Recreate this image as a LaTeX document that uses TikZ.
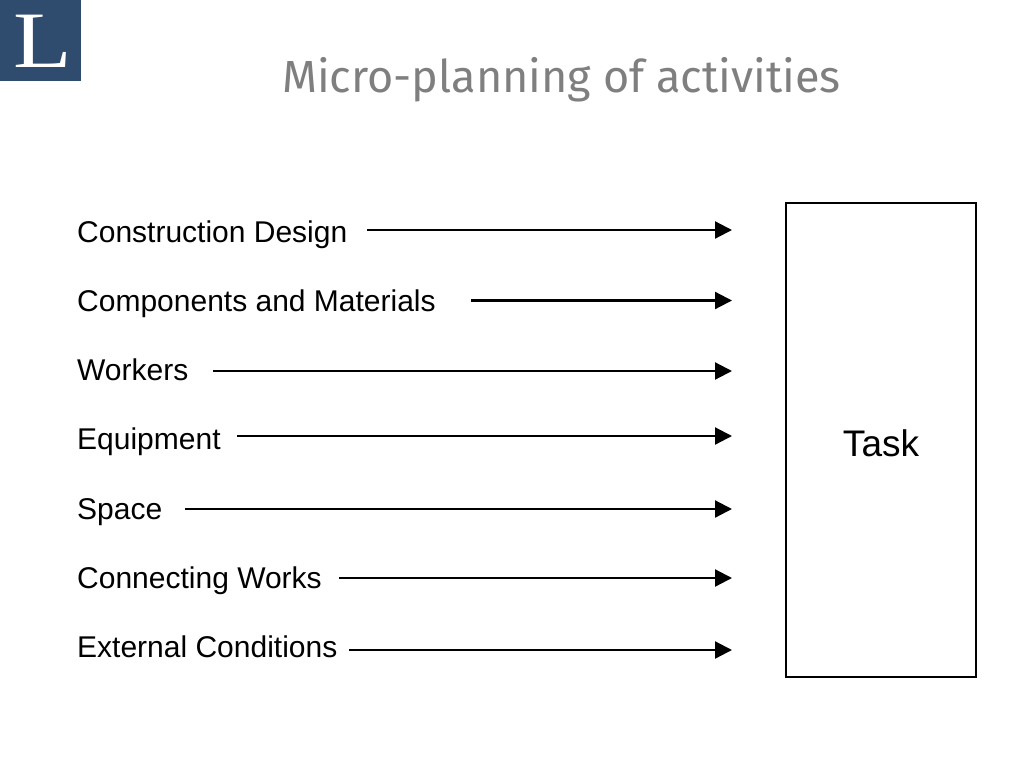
\documentclass[tikz,border=0pt]{standalone}
\usepackage{fontspec}
\setmainfont{Liberation Sans}
\newfontfamily\titlefont{Fira Sans}
\newfontfamily\logofont{Liberation Serif}
\usetikzlibrary{arrows.meta,positioning}
\definecolor{logoblue}{HTML}{2F4B6E}
\definecolor{titlegray}{HTML}{7F7F7F}

\begin{document}
\begin{tikzpicture}[x=1pt,y=-1pt,
    flow/.style={draw=black,line width=2.2pt,-{Triangle[length=17pt,width=17pt]}},
    factor/.style={anchor=base west,inner sep=0pt,font=\fontsize{30}{30}\selectfont}]
    \useasboundingbox (0,0) rectangle (1024,768);

    \node[fill=logoblue,minimum width=81pt,minimum height=81pt,inner sep=0pt,anchor=north west] (logo) at (0,0) {};
    \node[text=white,inner sep=0pt,xscale=1.2,font=\fontsize{80}{80}\logofont] (letter) at (43,41) {L};
    \node[text=titlegray,inner sep=0pt,font=\fontsize{45}{45}\titlefont] (title) at (561.5,80) {Micro-planning of activities};

    \node[draw=black,line width=2.6pt,minimum width=190pt,minimum height=474pt,inner sep=0pt] (task) at (881,440) {};
    \node[inner sep=0pt,font=\fontsize{37}{37}\selectfont] (tasklabel) at (881,443) {Task};

    \node[factor] (design) at (77,242) {Construction Design};
    \node[factor] (materials) at (77,311) {Components and Materials};
    \node[factor] (workers) at (77,380.5) {Workers};
    \node[factor] (equipment) at (77,449.5) {Equipment};
    \node[factor] (space) at (77,519) {Space};
    \node[factor] (connecting) at (77,588.5) {Connecting Works};
    \node[factor] (external) at (77,657) {External Conditions};

    \coordinate (s1) at (367,230);
    \coordinate (e1) at (732,230);
    \coordinate (s2) at (471,300.5);
    \coordinate (e2) at (732,300.5);
    \coordinate (s3) at (213,371);
    \coordinate (e3) at (732,371);
    \coordinate (s4) at (237,436);
    \coordinate (e4) at (732,436);
    \coordinate (s5) at (185,509);
    \coordinate (e5) at (732,509);
    \coordinate (s6) at (339,578);
    \coordinate (e6) at (732,578);
    \coordinate (s7) at (349,650);
    \coordinate (e7) at (732,650);

    \foreach \i in {1,...,7}
        \draw[flow] (s\i) -- (e\i);
\end{tikzpicture}
\end{document}
